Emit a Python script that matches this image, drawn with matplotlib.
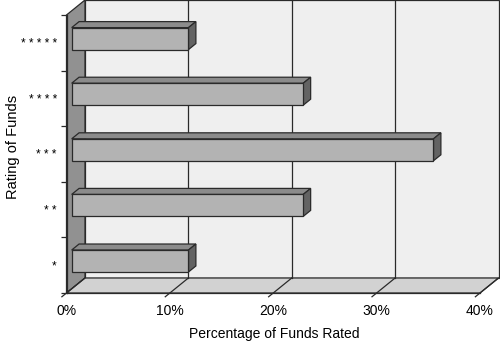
import matplotlib
matplotlib.use("Agg")
import matplotlib.pyplot as plt
from matplotlib.patches import Polygon
from matplotlib.ticker import FuncFormatter

# Data: bottom to top
ratings = ["*", "* *", "* * *", "* * * *", "* * * * *"]
pct_funds = [11.3, 22.4, 35.0, 22.4, 11.3]
x_ticks = [0, 10, 20, 30, 40]

plt.rcParams['font.family'] = ['Liberation Sans', 'DejaVu Sans']

# 3D look: depth offset of the back wall, in data units
DX = 1.79
DY = 0.27
D0, D1 = 0.28, 0.68   # front / back depth of bars
BAR_H = 0.395

WALL = '#efefef'
FLOOR = '#d2d2d2'
SIDE_WALL = '#919191'
BAR_FRONT = '#b3b3b3'
BAR_TOP = '#8b8b8b'
BAR_SIDE = '#636363'
EDGE = '#2a2a2a'

fig = plt.figure(figsize=(5, 3.42), dpi=100)
ax = fig.add_axes([66.5 / 500, 49 / 342, 413.5 / 500, 278 / 342])
ax.set_xlim(0, 40)
ax.set_ylim(0, len(ratings))
ax.patch.set_visible(False)

n = len(ratings)
xmax = x_ticks[-1]

def poly(pts, color, z, lw=0.9):
    ax.add_patch(Polygon(pts, closed=True, facecolor=color, edgecolor=EDGE,
                         linewidth=lw, zorder=z, clip_on=False))

# walls and floor
poly([(DX, DY), (xmax + DX, DY), (xmax + DX, n + DY), (DX, n + DY)], WALL, 1)
poly([(0, 0), (DX, DY), (DX, n + DY), (0, n)], SIDE_WALL, 1)
poly([(0, 0), (xmax, 0), (xmax + DX, DY), (DX, DY)], FLOOR, 1)

# gridlines on back wall and floor
for t in x_ticks:
    if 0 < t < xmax:
        ax.plot([t + DX, t + DX], [DY, n + DY], color=EDGE, lw=0.9,
                zorder=2, clip_on=False)
    ax.plot([t - 0.25 * DX, t + DX], [-0.25 * DY, DY], color=EDGE, lw=0.9,
            zorder=2, clip_on=False)

# 3D bars
ddx = (D1 - D0) * DX
ddy = (D1 - D0) * DY
for i, v in enumerate(pct_funds):
    c = i + 0.5
    x0 = D0 * DX
    x1 = v + D0 * DX
    y0 = c - BAR_H / 2 + D0 * DY
    y1 = c + BAR_H / 2 + D0 * DY
    poly([(x0, y1), (x1, y1), (x1 + ddx, y1 + ddy), (x0 + ddx, y1 + ddy)], BAR_TOP, 3)
    poly([(x1, y0), (x1 + ddx, y0 + ddy), (x1 + ddx, y1 + ddy), (x1, y1)], BAR_SIDE, 3)
    poly([(x0, y0), (x1, y0), (x1, y1), (x0, y1)], BAR_FRONT, 4)

for s in ['top', 'right']:
    ax.spines[s].set_visible(False)
for s in ['left', 'bottom']:
    ax.spines[s].set_color(EDGE)
    ax.spines[s].set_linewidth(0.9)
    ax.spines[s].set_zorder(5)

ax.set_xticks(x_ticks)
ax.xaxis.set_major_formatter(FuncFormatter(lambda v, p: f"{v:.0f}%"))
ax.tick_params(axis='x', length=0, pad=8, labelsize=10)

ax.set_yticks(range(n + 1))
ax.set_yticklabels([])
ax.set_yticks([i + 0.5 for i in range(n)], minor=True)
ax.set_yticklabels(ratings, minor=True, fontsize=8.5)
ax.tick_params(axis='y', which='major', direction='out', length=4, width=0.9, color=EDGE)
ax.tick_params(axis='y', which='minor', length=0, pad=7)

ax.set_xlabel("Percentage of Funds Rated", fontsize=10)
ax.xaxis.set_label_coords(0.502, -0.147)
ax.xaxis.label.set_va('center')
ax.set_ylabel("Rating of Funds", fontsize=10.5)
ax.yaxis.set_label_coords(-0.129, 0.525)
ax.yaxis.label.set_va('center')

fig.savefig("out.png", dpi=100)
